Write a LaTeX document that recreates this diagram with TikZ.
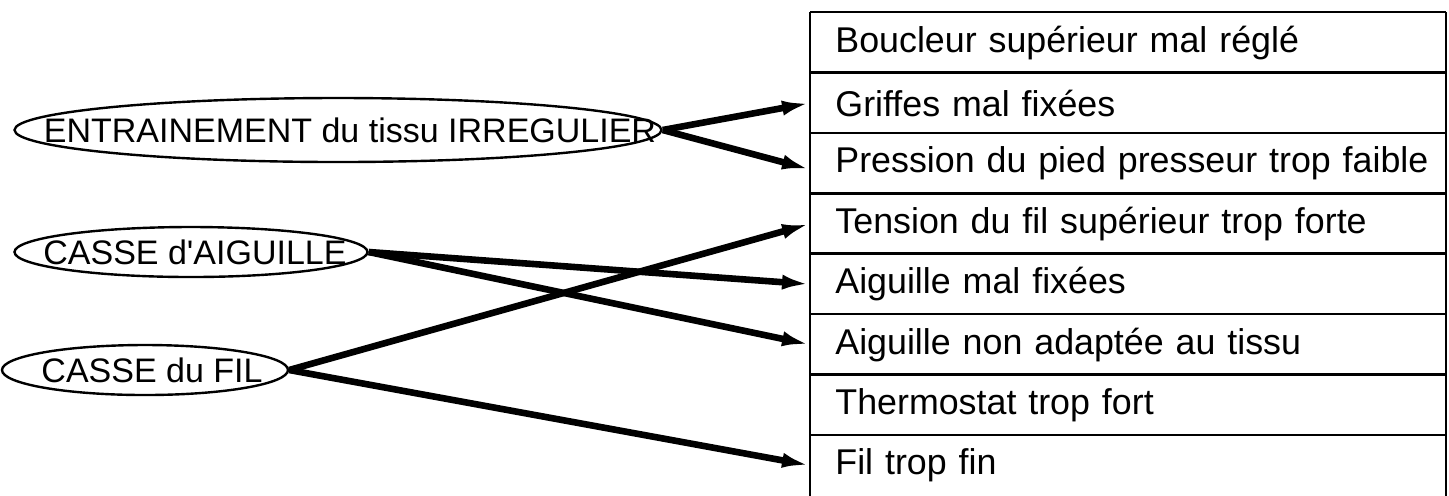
\documentclass[tikz,border=0pt]{standalone}
\usepackage{fontspec}
\setmainfont{Liberation Sans}
\usetikzlibrary{shapes.geometric, arrows.meta}
\tikzstyle{cause}=[ellipse,draw,line width=1.2pt,inner sep=0pt,font=\fontsize{17}{20}\selectfont]
\tikzstyle{cell}=[anchor=north west,inner xsep=0pt,inner ysep=0pt,text width=317.5pt,minimum height=30.2pt,align=left]
\tikzstyle{rule}=[line width=1.3pt]
\tikzstyle{lnk}=[line width=3.3pt,-{Latex[length=14pt,width=7.5pt]}]
\newcommand{\ctext}[1]{\makebox[0pt]{#1}}

\begin{document}
\begin{tikzpicture}[x=0.5pt,y=-0.5pt,font=\fontsize{17.9}{20}\selectfont]
    \useasboundingbox (0,0) rectangle (1449,495);
    % table of causes
    \foreach \txt [count=\i] in {Boucleur supérieur mal réglé, Griffes mal fixées, Pression du pied presseur trop faible, Tension du fil supérieur trop forte, Aiguille mal fixées, Aiguille non adaptée au tissu, Thermostat trop fort, Fil trop fin}
        \node[cell] (r\i) at (810,{12+60.4*(\i-1)}) {\hspace*{12.5pt}\txt};
    \draw[rule] (r1.north west) -- (r8.south west) (r1.north east) -- (r8.south east);
    \foreach \i in {1,...,8} \draw[rule] (r\i.north west) -- (r\i.north east);
    % defects
    \node[cause,minimum width=323.5pt,minimum height=32pt] (entr) at (338,130) {\ctext{\hspace{12pt}ENTRAINEMENT du tissu IRREGULIER}};
    \node[cause,minimum width=176.5pt,minimum height=25pt] (aig) at (191,252) {\ctext{\hspace{4pt}CASSE d\textquotesingle AIGUILLE}};
    \node[cause,minimum width=143pt,minimum height=25pt] (fil) at (145,370) {\ctext{\hspace{7pt}CASSE du FIL}};
    % links
    \draw[lnk] (entr.east) -- (r2.west);
    \draw[lnk] (entr.east) -- ([yshift=-3pt]r3.west);
    \draw[lnk] (aig.east) -- (r5.west);
    \draw[lnk] (aig.east) -- (r6.west);
    \draw[lnk] (fil.east) -- (r4.west);
    \draw[lnk] (fil.east) -- (r8.west);
\end{tikzpicture}
\end{document}
